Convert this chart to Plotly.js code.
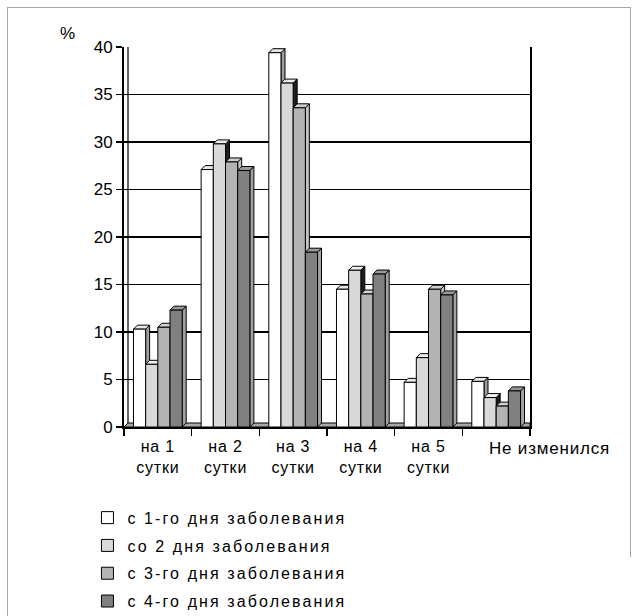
<!DOCTYPE html>
<html>
<head>
<meta charset="utf-8">
<script src="https://cdn.plot.ly/plotly-3.0.1.min.js"></script>
<style>
  html, body { margin: 0; padding: 0; background: #fff; overflow: hidden; }
  #wrap { position: relative; width: 637px; height: 616px; overflow: hidden; }
  #chart { width: 637px; height: 616px; }
  #frameL { position: absolute; left: 7px; top: 7px; width: 0; height: 620px;
            border-left: 1px solid #a6a6a6; pointer-events: none; }
  #frameT { position: absolute; left: 7px; top: 7px; width: 623px; height: 0;
            border-top: 1px solid #a6a6a6; pointer-events: none; }
  #frameR { position: absolute; left: 630px; top: 7px; width: 0; height: 550px;
            border-left: 1px solid #a6a6a6; pointer-events: none; }
  .legendtext { letter-spacing: 2.1px; }
  .xtick text { letter-spacing: 0.8px; }
  .annotation-text { letter-spacing: 0.8px; }
</style>
</head>
<body>
<div id="wrap"><div id="chart"></div><div id="frameL"></div><div id="frameT"></div><div id="frameR"></div></div>
<script>
// ---- data ----
const categories = ["на 1 сутки", "на 2 сутки", "на 3 сутки", "на 4 сутки", "на 5 сутки", "Не изменился"];
const tickLabels = ["на 1<br>сутки", "на 2<br>сутки", "на 3<br>сутки", "на 4<br>сутки", "на 5<br>сутки", ""];
const seriesNames = ["с 1-го дня заболевания", "со 2 дня заболевания", "с 3-го дня заболевания", "с 4-го дня заболевания"];
const s1 = [10.3, 27.1, 39.4, 14.5, 4.7, 4.8];
const s2 = [6.6, 29.8, 36.2, 16.5, 7.3, 3.1];
const s3 = [10.5, 27.9, 33.6, 14.0, 14.5, 2.2];
const s4 = [12.3, 27.0, 18.4, 16.1, 13.9, 3.8];
const seriesValues = [s1, s2, s3, s4];
const yTicks = [0, 5, 10, 15, 20, 25, 30, 35, 40];

// ---- style ----
const frontColors = ["#ffffff", "#d9d9d9", "#b3b3b3", "#808080"];
const topColors   = ["#e6e6e6", "#efefef", "#cfcfcf", "#9a9a9a"];
const sideColors  = ["#9f9f9f", "#1e1e1e", "#c4c4c4", "#a3a3a3"];
const W = 637, H = 616;
const M = { l: 124, r: 107, t: 47, b: 189, autoexpand: false };
const plotW = W - M.l - M.r, plotH = H - M.t - M.b;
const yMax = 40;
const pxPerUnit = plotH / yMax;
const catW = plotW / categories.length;
const barFrac = 0.18, groupStart = -0.36;
const barPx = barFrac * catW;
const dx = 4, dy = 4;
const font = "Liberation Sans, Arial, sans-serif";

const traces = seriesValues.map((vals, k) => ({
  type: "bar",
  name: seriesNames[k],
  x: categories,
  y: vals,
  width: barFrac,
  offset: groupStart + k * barFrac,
  legendgroup: "g" + k,
  marker: { color: frontColors[k], line: { color: "#000", width: 1 } },
  hoverinfo: "x+y+name"
}));

const shapes = [];
// floor depth
shapes.push({
  type: "path", xref: "x", yref: "y", xsizemode: "pixel", ysizemode: "pixel",
  xanchor: -0.5, yanchor: 0,
  path: `M0,0 L${plotW},0 L${plotW},${dy} L${dx},${dy} Z`,
  fillcolor: "#a8a8a8", line: { color: "#000", width: 1 }, layer: "between"
});
// back wall left edge
shapes.push({
  type: "path", xref: "x", yref: "y", xsizemode: "pixel", ysizemode: "pixel",
  xanchor: -0.5, yanchor: 0,
  path: `M${dx},${dy} L${dx},${plotH}`,
  line: { color: "#000", width: 1.2 }, layer: "between"
});
categories.forEach((c, i) => {
  seriesValues.forEach((vals, k) => {
    const v = vals[i];
    const left = i + groupStart + k * barFrac;
    const right = left + barFrac;
    const h = v * pxPerUnit;
    shapes.push({
      type: "path", xref: "x", yref: "y", xsizemode: "pixel", ysizemode: "pixel",
      xanchor: right, yanchor: v,
      path: `M0,0 L${dx},${dy} L${dx},${dy - h} L0,${-h} Z`,
      fillcolor: sideColors[k], line: { color: "#000", width: 1 }, layer: "between"
    });
    shapes.push({
      type: "path", xref: "x", yref: "y", xsizemode: "pixel", ysizemode: "pixel",
      xanchor: left, yanchor: v,
      path: `M0,0 L${barPx},0 L${barPx + dx},${dy} L${dx},${dy} Z`,
      fillcolor: topColors[k], line: { color: "#000", width: 1 }, layer: "between"
    });
  });
});

const layout = {
  width: W, height: H,
  margin: M,
  paper_bgcolor: "#fff", plot_bgcolor: "#fff",
  font: { family: font, color: "#000", size: 16 },
  barmode: "group",
  showlegend: true,
  legend: {
    x: -0.09, y: -0.194, xanchor: "left", yanchor: "top",
    font: { family: font, size: 16, color: "#000" },
    tracegroupgap: 4, itemclick: false, itemdoubleclick: false,
    maxheight: 1
  },
  xaxis: {
    type: "category",
    tickmode: "array", tickvals: categories, ticktext: tickLabels,
    tickson: "boundaries",
    ticks: "outside", ticklen: 7, tickcolor: "#000", tickwidth: 1.5,
    ticklabelstandoff: 4,
    showline: true, linecolor: "#000", linewidth: 2,
    showgrid: false, zeroline: false,
    range: [-0.5, categories.length - 0.5],
    tickfont: { family: font, size: 16, color: "#000" },
    fixedrange: true
  },
  yaxis: {
    range: [0, yMax],
    tickmode: "array", tickvals: yTicks,
    ticks: "outside", ticklen: 6, tickcolor: "#000", tickwidth: 1.5,
    showline: true, mirror: true, linecolor: "#000", linewidth: 2,
    showgrid: true, gridcolor: "#000", gridwidth: 1.5,
    zeroline: false,
    tickfont: { family: font, size: 17, color: "#000" },
    fixedrange: true
  },
  shapes: shapes,
  annotations: [
    { text: "%", xref: "paper", yref: "paper", x: (68 - M.l) / plotW, y: 1, yshift: 14,
      xanchor: "center", yanchor: "middle", showarrow: false,
      font: { family: font, size: 17, color: "#000" } },
    { text: categories[5], xref: "x", yref: "paper", x: 5, y: 0, xshift: 53, yshift: -10,
      xanchor: "center", yanchor: "top", showarrow: false,
      font: { family: font, size: 17, color: "#000" } }
  ]
};

Plotly.newPlot("chart", traces, layout, { staticPlot: true, displayModeBar: false });
</script>
</body>
</html>
